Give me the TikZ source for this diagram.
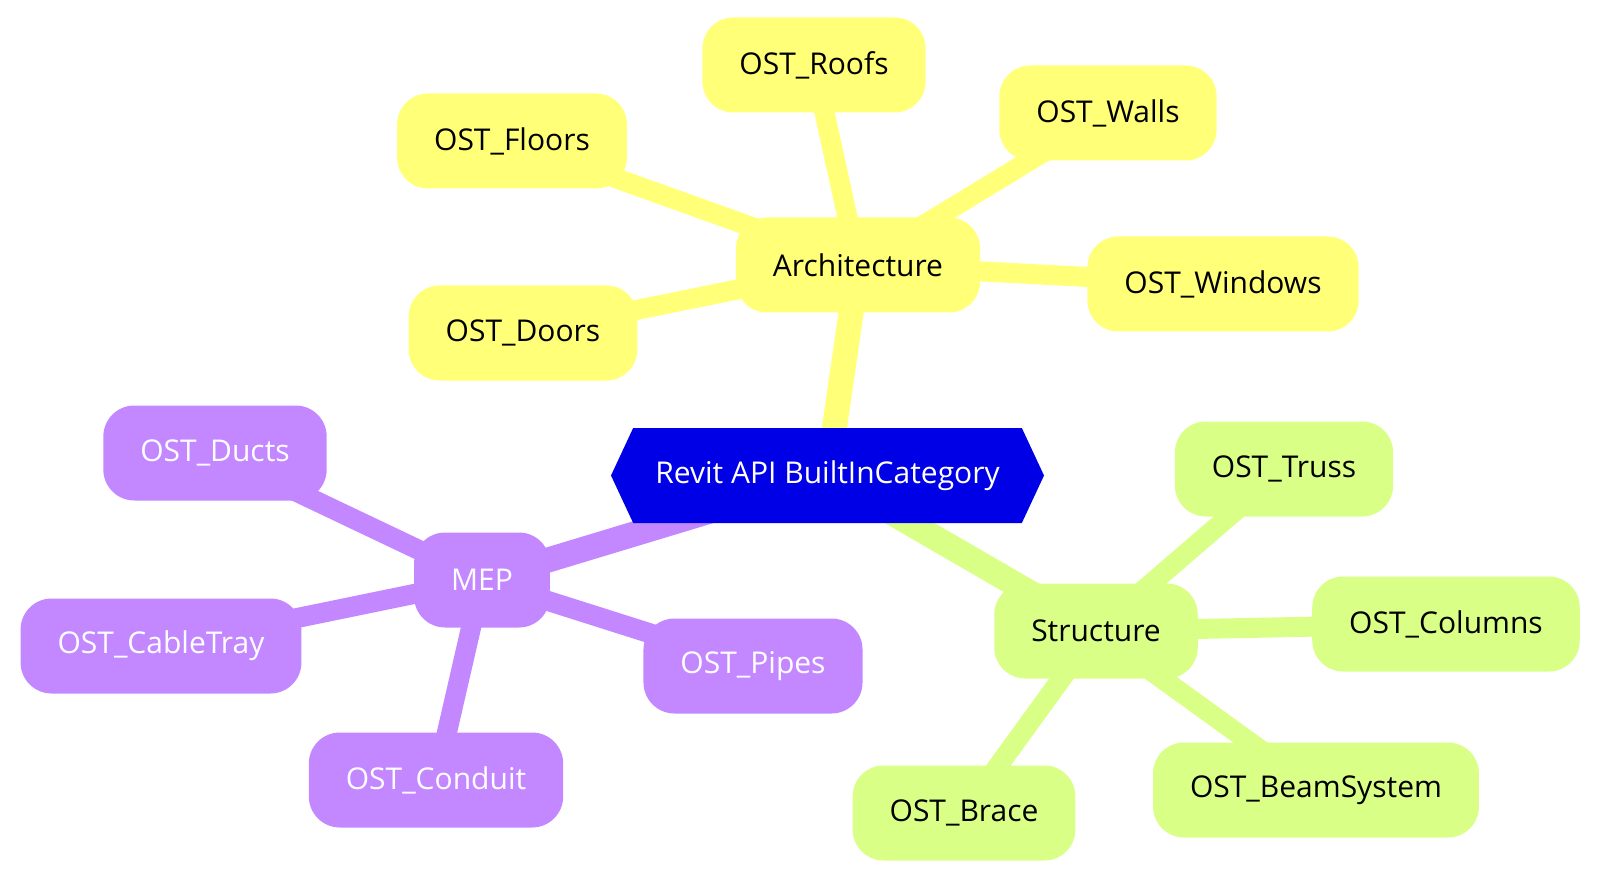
\documentclass[tikz,border=0pt]{standalone}
\usepackage{fontspec}
\setmainfont{Open Sans}
\usetikzlibrary{shapes.symbols,backgrounds}

\definecolor{archyellow}{HTML}{FFFF78}
\definecolor{mepviolet}{HTML}{C387FF}
\definecolor{strgreen}{HTML}{D9FF87}
\definecolor{rootblue}{HTML}{0000E6}

\begin{document}
\begin{tikzpicture}[x=1pt,y=-1pt,
	box/.style={rounded corners=31pt, minimum height=95pt, inner xsep=37pt, font=\fontsize{30}{36}\selectfont},
	arch/.style={box, fill=archyellow, text=black},
	mep/.style={box, fill=mepviolet, text=white},
	str/.style={box, fill=strgreen, text=black},
	rootedge/.style={line width=25pt},
	leafedge/.style={line width=20pt}]
	\useasboundingbox (0,0) rectangle (1600,882);

	\node[shape=signal, signal to=east and west, signal pointer angle=130, fill=rootblue, text=white,
		minimum height=95pt, minimum width=433pt, font=\fontsize{30}{36}\selectfont] (R) at (827.5,475.5) {Revit API BuiltInCategory};

	\node[arch] (A) at (858,265) {Architecture};
	\node[arch] (A1) at (814,65) {OST\_Roofs};
	\node[arch] (A2) at (512,141) {OST\_Floors};
	\node[arch] (A3) at (1108,113) {OST\_Walls};
	\node[arch] (A4) at (1223,284) {OST\_Windows};
	\node[arch] (A5) at (523,333) {OST\_Doors};

	\node[mep] (M) at (482,580) {MEP};
	\node[mep] (M1) at (215,453) {OST\_Ducts};
	\node[mep] (M2) at (161,646) {OST\_CableTray};
	\node[mep] (M3) at (436,780) {OST\_Conduit};
	\node[mep] (M4) at (753,666) {OST\_Pipes};

	\node[str] (S) at (1096,631) {Structure};
	\node[str] (S1) at (1284,469) {OST\_Truss};
	\node[str] (S2) at (1446,624) {OST\_Columns};
	\node[str] (S3) at (1316,790) {OST\_BeamSystem};
	\node[str] (S4) at (964,813) {OST\_Brace};

	\begin{pgfonlayer}{background}
	\draw [rootedge, archyellow] (R.center) -- (A.center);
	\draw [rootedge, mepviolet] (R.center) -- (M.center);
	\draw [rootedge, strgreen] (R.center) -- (S.center);

	\foreach \n in {A1,A2,A3,A4,A5}
		\draw [leafedge, archyellow] (A.center) -- (\n.center);
	\foreach \n in {M1,M2,M3,M4}
		\draw [leafedge, mepviolet] (M.center) -- (\n.center);
	\foreach \n in {S1,S2,S3,S4}
		\draw [leafedge, strgreen] (S.center) -- (\n.center);
	\end{pgfonlayer}
\end{tikzpicture}
\end{document}
